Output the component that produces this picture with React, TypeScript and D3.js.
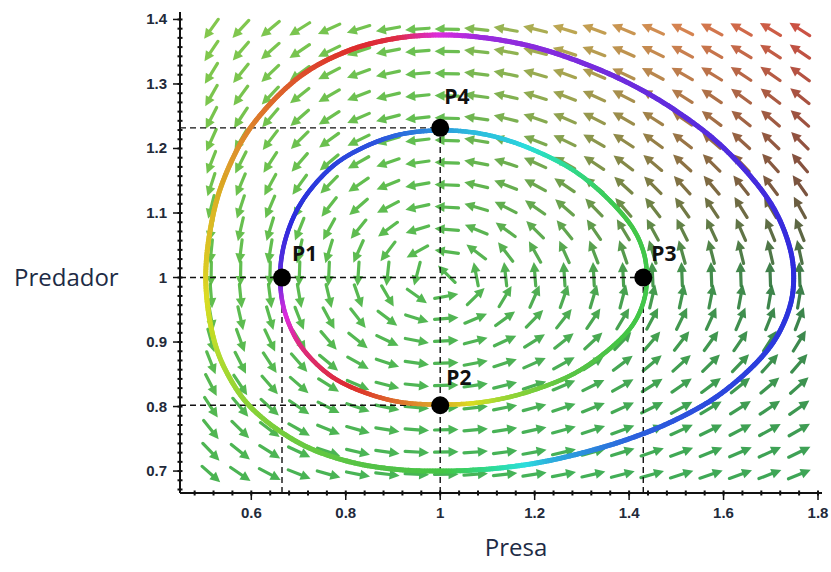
import React, { useEffect, useRef } from "react";
import * as d3 from "d3";

const W = 831;
const H = 572;

// ---- axis ticks ----
const xTicks = [0.6, 0.8, 1, 1.2, 1.4, 1.6, 1.8];
const xTickLabels = ["0.6", "0.8", "1", "1.2", "1.4", "1.6", "1.8"];
const yTicks = [0.7, 0.8, 0.9, 1, 1.1, 1.2, 1.3, 1.4];
const yTickLabels = ["0.7", "0.8", "0.9", "1", "1.1", "1.2", "1.3", "1.4"];
const xMinorStep = 0.04;
const yMinorStep = 0.1 / 7;

// ---- Lotka-Volterra model (direction field) ----
// dx/dt = A*x*(1 - y), dy/dt = C*y*(x - 1)
const A = 1;
const C = 0.3;
const xGrid = d3.range(21).map((i) => 0.515 + i * 0.0623);
const yGrid = d3.range(21).map((i) => 0.695 + i * 0.0345);

// ---- orbits ----
const outerX = [0.5035, 0.52, 0.55, 0.6, 0.7, 0.8, 0.9, 1.0, 1.1, 1.2, 1.3, 1.4, 1.5, 1.6, 1.7, 1.74, 1.7485, 1.74, 1.7, 1.6, 1.5, 1.4, 1.3, 1.2, 1.1, 1.0, 0.9, 0.8, 0.7, 0.6, 0.55, 0.52];
const outerY = [1.0, 1.1, 1.167, 1.234, 1.31, 1.35, 1.37, 1.376, 1.371, 1.357, 1.333, 1.301, 1.258, 1.201, 1.115, 1.047, 1.0, 0.954, 0.894, 0.823, 0.78, 0.75, 0.728, 0.712, 0.703, 0.7, 0.703, 0.716, 0.744, 0.798, 0.85, 0.906];
const innerX = [0.661, 0.67, 0.7, 0.75, 0.8, 0.9, 1.0, 1.1, 1.2, 1.3, 1.4, 1.43, 1.4375, 1.43, 1.4, 1.3, 1.2, 1.1, 1.0, 0.9, 0.8, 0.75, 0.7, 0.67];
const innerY = [1.0, 1.053, 1.109, 1.157, 1.187, 1.219, 1.228, 1.221, 1.197, 1.157, 1.085, 1.041, 1.0, 0.961, 0.919, 0.858, 0.826, 0.808, 0.803, 0.809, 0.834, 0.858, 0.899, 0.949];

// ---- marked points ----
const pointNames = ["P1", "P2", "P3", "P4"];
const pointX = [0.665, 1, 1.43, 1];
const pointY = [1, 0.802, 1, 1.232];

// ---- styles ----
const outerHue = d3.scaleLinear<number>()
  .domain([0, 30, 60, 80, 90, 100, 120, 140, 160, 180, 205, 230, 250, 270, 300, 320, 340, 360])
  .range([240, 255, 268, 278, 300, 352, 368, 388, 406, 416, 440, 462, 474, 480, 555, 582, 592, 600]);
const innerHue = d3.scaleLinear<number>()
  .domain([0, 18, 37, 60, 78, 90, 113, 132, 159, 180, 188, 204, 226, 252, 279, 296, 322, 340, 360])
  .range([125, 122, 150, 185, 192, 205, 226, 232, 240, 258, 285, 330, 355, 385, 415, 440, 470, 480, 485]);

function orbitColor(h: number): string {
  const hh = ((h % 360) + 360) % 360;
  // greens are muted in the reference, the rest is vivid
  const gDist = Math.abs(hh - 115);
  const sat = gDist < 45 ? 0.5 + 0.22 * (gDist / 45) : 0.72;
  const light = hh > 40 && hh < 70 ? 0.5 : 0.52;
  return d3.hsl(hh, sat, light).formatHex();
}

const colX = [0.5, 1.0, 1.25, 1.5, 1.75];
const colY = [0.7, 1.0, 1.15, 1.4];
const colRows = [
  ["#38ac40", "#34ac44", "#30aa46", "#2ca244", "#2a9c44"],
  ["#52b83c", "#42b040", "#3ea440", "#2e8a3a", "#286e36"],
  ["#62bc3a", "#4ab43e", "#62983a", "#76622e", "#70402a"],
  ["#78c23a", "#5cba40", "#b8a040", "#d87a40", "#cc4030"],
];

function idx(arr: number[], v: number): [number, number] {
  if (v <= arr[0]) return [0, 0];
  if (v >= arr[arr.length - 1]) return [arr.length - 2, 1];
  for (let i = 0; i < arr.length - 1; i++) {
    if (v >= arr[i] && v <= arr[i + 1]) return [i, (v - arr[i]) / (arr[i + 1] - arr[i])];
  }
  return [0, 0];
}
function arrowColor(xv: number, yv: number): string {
  const [i, tx] = idx(colX, xv);
  const [j, ty] = idx(colY, yv);
  const a = d3.interpolateRgb(colRows[j][i], colRows[j][i + 1])(tx);
  const b = d3.interpolateRgb(colRows[j + 1][i], colRows[j + 1][i + 1])(tx);
  return d3.interpolateRgb(a, b)(ty);
}

export default function App() {
  const orbitRef = useRef<SVGGElement>(null);
  const x = d3.scaleLinear().domain([0.449, 1.8]).range([180, 818]);
  const y = d3.scaleLinear().domain([0.666, 1.41]).range([493, 13]);
  const kx = x(1) - x(0);
  const ky = y(0) - y(1);
  const cx = x(1);
  const cy = y(1);

  useEffect(() => {
    const g = d3.select(orbitRef.current);
    g.selectAll("*").remove();
    const orbits = [
      { xs: outerX, ys: outerY, hue: outerHue, w: 5 },
      { xs: innerX, ys: innerY, hue: innerHue, w: 4.5 },
    ];
    orbits.forEach((o) => {
      const pts: [number, number][] = o.xs.map((v, i) => [x(v), y(o.ys[i])]);
      const d = d3.line().curve(d3.curveCatmullRomClosed.alpha(0.5))(pts) as string;
      const tmp = g.append("path").attr("d", d).attr("fill", "none");
      const node = tmp.node() as SVGPathElement;
      const len = node.getTotalLength();
      const N = 600;
      const s = d3.range(N + 1).map((i) => node.getPointAtLength((len * i) / N));
      tmp.remove();
      for (let i = 0; i < N; i++) {
        const mx = (s[i].x + s[i + 1].x) / 2;
        const my = (s[i].y + s[i + 1].y) / 2;
        let ang = (Math.atan2(-(my - cy), mx - cx) * 180) / Math.PI;
        if (ang < 0) ang += 360;
        g.append("line")
          .attr("x1", s[i].x).attr("y1", s[i].y)
          .attr("x2", s[i + 1].x).attr("y2", s[i + 1].y)
          .attr("stroke", orbitColor(o.hue(ang)))
          .attr("stroke-width", o.w)
          .attr("stroke-linecap", "round");
      }
    });
  }, []);

  // arrows
  const L = 24, headLen = 10, hw = 5;
  const arrows: JSX.Element[] = [];
  xGrid.forEach((xv, i) => {
    yGrid.forEach((yv, j) => {
      const dx = A * xv * (1 - yv) * kx;
      const dy = -C * yv * (xv - 1) * ky;
      const m = Math.hypot(dx, dy);
      if (m < 1e-9) return;
      const ux = dx / m, uy = dy / m;
      const px = x(xv), py = y(yv);
      const tx = px - ux * L / 2, ty = py - uy * L / 2;
      const hx = px + ux * L / 2, hy = py + uy * L / 2;
      const bx = hx - ux * headLen, by = hy - uy * headLen;
      const col = arrowColor(xv, yv);
      arrows.push(
        <g key={`a${i}-${j}`} opacity={0.9}>
          <line x1={tx} y1={ty} x2={bx + ux * 2} y2={by + uy * 2} stroke={col} strokeWidth={3.2} strokeLinecap="round" />
          <polygon
            points={`${hx},${hy} ${bx - uy * hw},${by + ux * hw} ${bx + uy * hw},${by - ux * hw}`}
            fill={col}
          />
        </g>
      );
    });
  });

  const x0 = 180, yAxisY = 493;
  const xMinor = d3.range(0.48, 1.81, xMinorStep);
  const yMinor = d3.range(-2, 60).map((k) => 0.7 + k * yMinorStep).filter((v) => v > 0.67 && v < 1.41);
  const dash = "6,4";
  const tickFont = "'Liberation Sans', Arial, sans-serif";
  const labelFont = "'Open Sans', 'Noto Sans', sans-serif";

  return (
    <svg width={W} height={H} style={{ position: "absolute", left: 0, top: 0, background: "#fff" }}>
      <g>{arrows}</g>
      {/* dashed guide lines */}
      <g stroke="#111" strokeWidth={1.4} strokeDasharray={dash} fill="none">
        <line x1={x0} x2={x(pointX[2])} y1={y(1)} y2={y(1)} />
        <line x1={x0} x2={x(pointX[3])} y1={y(pointY[3])} y2={y(pointY[3])} />
        <line x1={x0} x2={x(pointX[1])} y1={y(pointY[1])} y2={y(pointY[1])} />
        <line x1={x(1)} x2={x(1)} y1={yAxisY} y2={y(pointY[3])} />
        <line x1={x(pointX[0])} x2={x(pointX[0])} y1={yAxisY} y2={y(pointY[0])} />
        <line x1={x(pointX[2])} x2={x(pointX[2])} y1={yAxisY} y2={y(pointY[2])} />
      </g>
      <g ref={orbitRef} />
      {/* axes */}
      <g stroke="#111">
        <line x1={x0} x2={822} y1={yAxisY} y2={yAxisY} strokeWidth={2} />
        <line x1={x0} x2={x0} y1={yAxisY} y2={12} strokeWidth={2} />
        {xMinor.map((v) => (
          <line key={`xm${v}`} x1={x(v)} x2={x(v)} y1={yAxisY - 2.5} y2={yAxisY + 2.5} strokeWidth={2} />
        ))}
        {xTicks.map((v) => (
          <line key={`xt${v}`} x1={x(v)} x2={x(v)} y1={yAxisY} y2={yAxisY + 7} strokeWidth={1.5} />
        ))}
        {yMinor.map((v) => (
          <line key={`ym${v}`} x1={x0 - 2.5} x2={x0 + 2.5} y1={y(v)} y2={y(v)} strokeWidth={2} />
        ))}
        {yTicks.map((v) => (
          <line key={`yt${v}`} x1={x0 - 7} x2={x0} y1={y(v)} y2={y(v)} strokeWidth={1.5} />
        ))}
      </g>
      {xTicks.map((v, i) => (
        <text key={`xl${v}`} x={x(v)} y={518} textAnchor="middle" fontFamily={tickFont} fontWeight="bold" fontSize={15} fill="#222a3a">
          {xTickLabels[i]}
        </text>
      ))}
      {yTicks.map((v, i) => (
        <text key={`yl${v}`} x={167} y={y(v) + 5} textAnchor="end" fontFamily={tickFont} fontWeight="bold" fontSize={15} fill="#222a3a">
          {yTickLabels[i]}
        </text>
      ))}
      {/* points */}
      {pointNames.map((n, i) => (
        <circle key={n} cx={x(pointX[i])} cy={y(pointY[i])} r={9} fill="#000" />
      ))}
      <text x={x(pointX[0]) + 10} y={y(pointY[0]) - 17} fontFamily={labelFont} fontWeight="bold" fontSize={21} fill="#111">{pointNames[0]}</text>
      <text x={x(pointX[1]) + 6} y={y(pointY[1]) - 20} fontFamily={labelFont} fontWeight="bold" fontSize={21} fill="#111">{pointNames[1]}</text>
      <text x={x(pointX[2]) + 8} y={y(pointY[2]) - 17} fontFamily={labelFont} fontWeight="bold" fontSize={21} fill="#111">{pointNames[2]}</text>
      <text x={x(pointX[3]) + 4} y={y(pointY[3]) - 24} fontFamily={labelFont} fontWeight="bold" fontSize={21} fill="#111">{pointNames[3]}</text>
      {/* axis titles */}
      <text x={14} y={286} fontFamily={labelFont} fontSize={24} fill="#1d2b45">Predador</text>
      <text x={516} y={556} textAnchor="middle" fontFamily={labelFont} fontSize={24} fill="#1d2b45">Presa</text>
    </svg>
  );
}
